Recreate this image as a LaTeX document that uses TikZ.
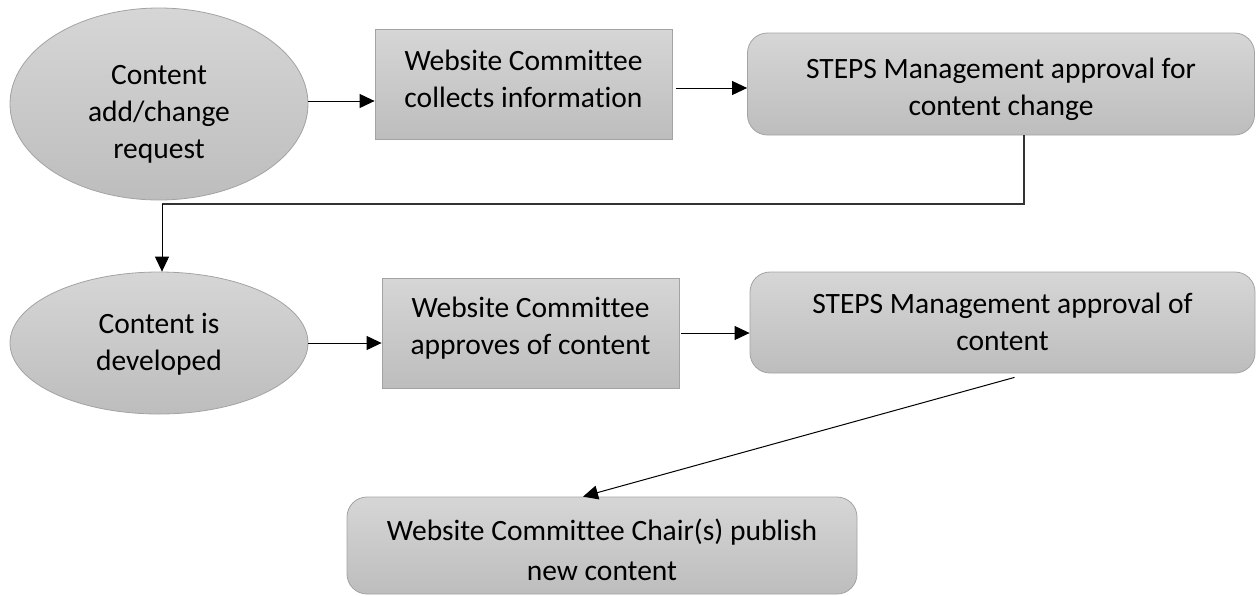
\documentclass[tikz,border=0pt]{standalone}
\usepackage{fontspec}
\setmainfont{Carlito}[Ligatures=NoCommon]
\usetikzlibrary{shapes.geometric,arrows.meta}
\definecolor{topgray}{HTML}{D6D6D6}
\definecolor{botgray}{HTML}{BDBDBD}
\definecolor{edgegray}{HTML}{A3A3A3}
\tikzset{
  base/.style={draw=edgegray, line width=0.8pt, top color=topgray, bottom color=botgray, inner sep=0pt},
  oval/.style={base, ellipse},
  sqbox/.style={base, rectangle},
  rbox/.style={base, rectangle, rounded corners=20pt},
  txt/.style={align=center, inner sep=0pt, font=\fontsize{29.5}{37}\selectfont, text=black},
  arr/.style={line width=1pt, black, -{Triangle[length=15pt,width=14pt]}},
  link/.style={line width=1.4pt, black!80}
}
\begin{document}
\begin{tikzpicture}[x=1pt,y=-1pt]
\useasboundingbox (0,0) rectangle (1256,595);
\node[oval, minimum width=298pt, minimum height=192pt] (e1) at (159,104) {};
\node[txt] (t1) at ([yshift=-10pt]e1.center) {Content\\add/change\\request};
\node[sqbox, minimum width=297pt, minimum height=110pt] (b1) at (523.5,84) {};
\node[txt] (t2) at ([yshift=5pt]b1.center) {Website Committee\\collects information};
\node[rbox, minimum width=507pt, minimum height=102pt] (b2) at (1001,84) {};
\node[txt] (t3) at ([yshift=-5pt]b2.center) {STEPS Management approval for\\content change};
\node[oval, minimum width=298pt, minimum height=142pt] (e2) at (159,343) {};
\node[txt] (t4) at ([yshift=-1pt]e2.center) {Content is\\developed};
\node[sqbox, minimum width=297pt, minimum height=110pt] (b3) at (530.5,333) {};
\node[txt] (t5) at ([yshift=5pt]b3.center) {Website Committee\\approves of content};
\node[rbox, minimum width=505pt, minimum height=101pt] (b4) at (1002.5,322.5) {};
\node[txt] (t6) at ([yshift=1pt]b4.center) {STEPS Management approval of\\content};
\node[rbox, minimum width=510pt, minimum height=97pt] (b5) at (602,545.5) {};
\node[txt, font=\fontsize{29.5}{40}\selectfont] (t7) at ([yshift=-4pt]b5.center) {Website Committee Chair(s) publish\\new content};
\coordinate (k1) at (1024,204);
\coordinate (k2) at (162,204);
\draw[arr] ([yshift=3pt]e1.east) -- ([yshift=3pt]e1.east -| b1.west);
\draw[arr] ([xshift=4pt,yshift=-4pt]b1.east) -- ([yshift=-4pt]b2.west);
\draw[link] (b2.south -| k1) -- (k1) -- (k2);
\draw[arr] (k2) -- (k2 |- e2.north);
\draw[arr] (e2.east) -- (e2.east -| b3.west);
\draw[arr] ([xshift=2pt]b3.east) -- (b3.east -| b4.west);
\draw[arr] ([xshift=12pt,yshift=-4pt]b4.south) -- ([xshift=-19pt]b5.north);
\end{tikzpicture}
\end{document}
